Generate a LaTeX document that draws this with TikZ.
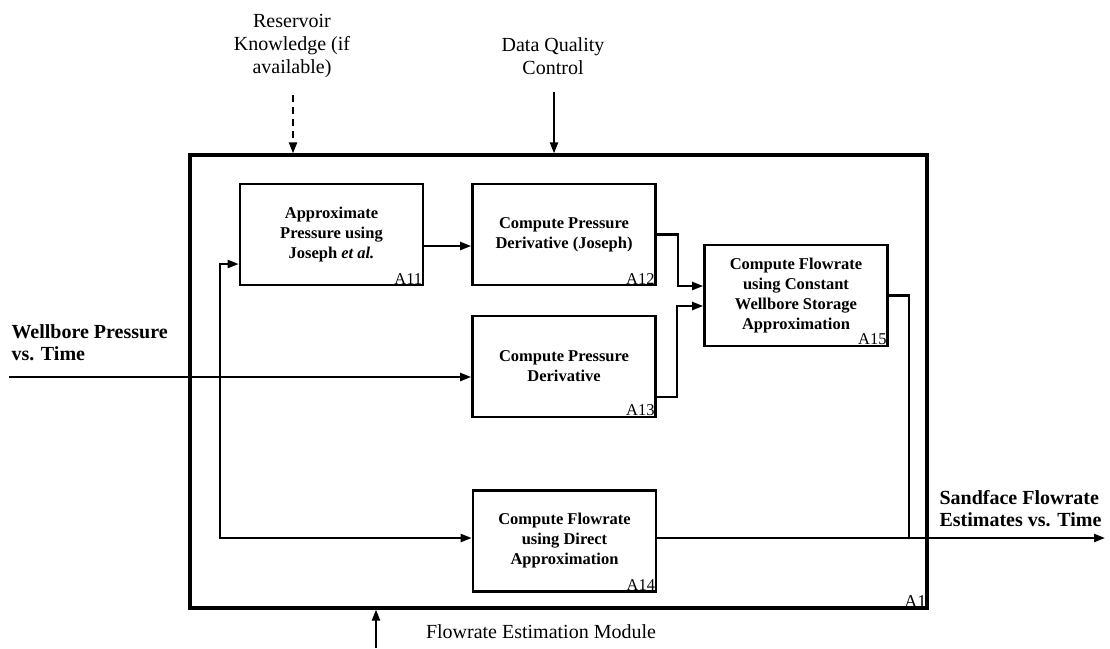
\documentclass[tikz,border=0pt]{standalone}
\usepackage{fontspec}
\setmainfont{Liberation Serif}
\usetikzlibrary{arrows.meta}

\begin{document}
\begin{tikzpicture}[x=1pt, y=-1pt,
    >={Triangle[length=11pt,width=8pt]},
    proc/.style={draw, line width=2.7pt, minimum width=183pt, minimum height=101pt,
      align=center, inner sep=2pt, font=\fontsize{16.5}{20}\selectfont\bfseries},
    tag/.style={anchor=south east, inner sep=2pt, font=\fontsize{16.5}{18}\selectfont},
    lbl/.style={align=center, font=\fontsize{20}{23}\selectfont},
    io/.style={anchor=west, align=left, font=\fontsize{20}{22}\selectfont\bfseries},
    flow/.style={->, line width=2.2pt}]
      \useasboundingbox (0,0) rectangle (1110,648);

      \node[draw, line width=3.2pt, minimum width=737pt, minimum height=453pt] (a1) at (558.5,381.5) {};
      \node[tag, font=\fontsize{18}{20}\selectfont] at (a1.south east) {A1};

      \node[proc] (a11) at (331.5,234.5) {Approximate\\Pressure using\\Joseph \textit{et al.}};
      \node[proc] (a12) at (564,234.5) {Compute Pressure\\Derivative (Joseph)};
      \node[proc] (a13) at (564,366.5) {Compute Pressure\\Derivative};
      \node[proc] (a14) at (564.5,541) {Compute Flowrate\\using Direct\\Approximation};
      \node[proc] (a15) at (796,295.5) {Compute Flowrate\\using Constant\\Wellbore Storage\\Approximation};

      \node[tag] at (a11.south east) {A11};
      \node[tag] at (a12.south east) {A12};
      \node[tag] at (a13.south east) {A13};
      \node[tag] at (a14.south east) {A14};
      \node[tag] at (a15.south east) {A15};

      \node[lbl] (rk) at (292,46) {Reservoir\\Knowledge (if\\available)};
      \node[lbl] (dq) at (553,56) {Data Quality\\Control};
      \node[lbl] (fem) at (541,632) {Flowrate Estimation Module};
      \node[io] (wp) at (8,343) {Wellbore Pressure\\vs. Time};
      \node[io] (sf) at (936,509) {Sandface Flowrate\\Estimates vs. Time};

      \coordinate (rkin) at (293,95);
      \coordinate (dqin) at (554,92);
      \coordinate (mech) at (376,648);
      \coordinate (win) at (9,377);
      \coordinate (jn) at (220,377);
      \coordinate (sfout) at (1105,538);

      \draw[flow, dashed, dash pattern=on 7pt off 5pt] (rkin) -- (rkin |- a1.north);
      \draw[flow] (dqin) -- (dqin |- a1.north);
      \draw[flow] (mech) -- (mech |- a1.south);

      \draw[flow] (win) -- (win -| a13.west);
      \draw[flow] (jn) |- ([yshift=-29.5pt]a11.west);
      \draw[flow] (jn) |- ([yshift=3pt]a14.west);

      \draw[flow] ([yshift=-11.5pt]a11.east) -- ([yshift=-11.5pt]a12.west);
      \draw[flow] (a12.east) -- ++(21,0) |- ([yshift=9.5pt]a15.west);
      \draw[flow] ([yshift=-30.5pt]a13.east) -- ++(20,0) |- ([yshift=-10.5pt]a15.west);

      \draw[flow] ([yshift=3pt]a14.east) -- (sfout);
      \draw[line width=2.2pt] (a15.east) -| ([xshift=20pt]a15.east |- sfout);
    \end{tikzpicture}
\end{document}
